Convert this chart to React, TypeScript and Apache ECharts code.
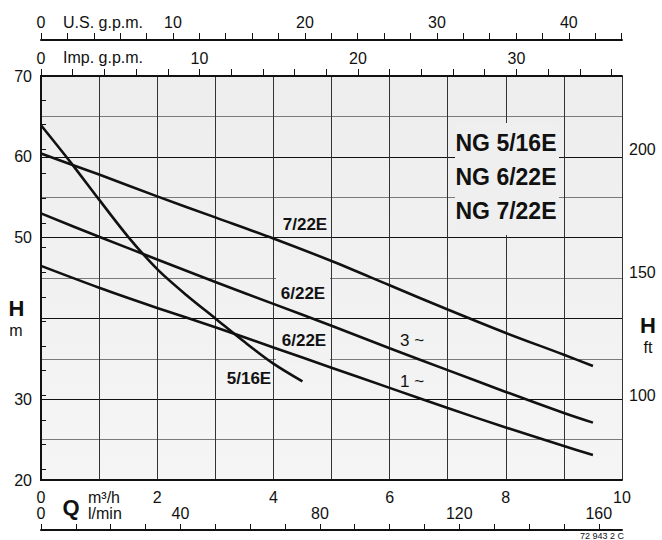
import React, { useEffect, useRef } from "react";
import * as echarts from "echarts";

// ---- data ----
const flowLong = [0, 1, 2, 3, 4, 5, 6, 7, 8, 9, 9.5];
const head722 = [60.4, 57.8, 55.1, 52.5, 49.9, 47.1, 44.1, 41.1, 38.2, 35.5, 34.1];
const head622Three = [53.0, 50.1, 47.3, 44.5, 41.8, 39.1, 36.3, 33.6, 30.9, 28.3, 27.1];
const head622One = [46.5, 43.8, 41.3, 38.9, 36.4, 33.9, 31.4, 28.9, 26.5, 24.2, 23.1];
const flowShort = [0, 0.5, 1, 1.5, 2, 2.5, 3, 3.5, 4, 4.5];
const head516 = [63.9, 59.4, 54.7, 50.1, 46.1, 42.9, 40.0, 37.1, 34.4, 32.2];

const mLabels = [20, 30, 50, 60, 70];
const lminTicks = [0, 10, 20, 30, 40, 50, 60, 70, 80, 90, 100, 110, 120, 130, 140, 150, 160];
const lminLabels = [0, 40, 80, 120, 160];
const usTicks = [0, 2, 4, 6, 8, 10, 12, 14, 16, 18, 20, 22, 24, 26, 28, 30, 32, 34, 36, 38, 40, 42, 44];
const usLabels = [0, 10, 20, 30, 40];
const impTicks = [0, 2, 4, 6, 8, 10, 12, 14, 16, 18, 20, 22, 24, 26, 28, 30, 32, 34, 36];
const impLabels = [0, 10, 20, 30];
const ftTicks = [70, 80, 90, 100, 110, 120, 130, 140, 150, 160, 170, 180, 190, 200, 210, 220];
const ftLabels = [100, 150, 200];

const models = ["NG 5/16E", "NG 6/22E", "NG 7/22E"];

// unit conversions
const Q_MAX = 10; // m3/h
const H_MIN = 20;
const H_MAX = 70;
const US_PER_M3H = 1000 / 3.785411784 / 60;
const IMP_PER_M3H = 1000 / 4.54609 / 60;
const LMIN_PER_M3H = 1000 / 60;
const FT_PER_M = 3.28084;

const FONT = "Liberation Sans, Arial, Helvetica, sans-serif";
const INK = "#111";

const zip = (xs: number[], ys: number[]) => xs.map((x, i) => [x, ys[i]]);

export default function App() {
  const ref = useRef<HTMLDivElement>(null);

  useEffect(() => {
    if (!ref.current) return;
    const chart = echarts.init(ref.current, undefined, { renderer: "svg" });

    const labelStyle = { color: INK, fontSize: 16, fontFamily: FONT };
    const lineSeries = (name: string, xs: number[], ys: number[]) => ({
      type: "line",
      name,
      xAxisIndex: 0,
      yAxisIndex: 1,
      data: zip(xs, ys),
      smooth: 0.3,
      symbol: "none",
      z: 10,
      lineStyle: { color: INK, width: 2.6 },
      silent: true,
    });

    const txt = (
      text: string,
      x: number,
      y: number,
      size: number,
      bold = false,
      align = "center"
    ) => ({
      type: "text",
      x,
      y,
      z: 20,
      silent: true,
      style: {
        text,
        fill: INK,
        font: `${bold ? "bold " : ""}${size}px ${FONT}`,
        textAlign: align,
        textVerticalAlign: "middle",
      },
    });

    const cover = (x: number, y: number, w: number, h: number, fill: string) => ({
      type: "rect",
      z: 1,
      silent: true,
      shape: { x, y, width: w, height: h },
      style: { fill },
    });

    chart.setOption({
      animation: false,
      grid: {
        left: 41,
        right: 40,
        top: 76,
        bottom: 60,
        show: true,
        borderWidth: 0,
        backgroundColor: new echarts.graphic.LinearGradient(0, 0, 0, 1, [
          { offset: 0, color: "#ededed" },
          { offset: 1, color: "#f5f5f5" },
        ]),
      },
      xAxis: [
        {
          type: "value",
          position: "bottom",
          min: 0,
          max: Q_MAX,
          interval: 1,
          axisLine: { show: true, lineStyle: { color: INK, width: 2 } },
          axisTick: { show: false },
          axisLabel: {
            ...labelStyle,
            margin: 9,
            formatter: (v: number) => (v % 2 === 0 ? String(v) : ""),
          },
          splitLine: { show: true, lineStyle: { color: "#333", width: 1 } },
        },
        {
          type: "value",
          position: "bottom",
          offset: 50,
          min: 0,
          max: Q_MAX * LMIN_PER_M3H,
          axisLine: { show: true, lineStyle: { color: INK, width: 2 } },
          axisTick: {
            show: true,
            inside: true,
            length: 6,
            customValues: lminTicks,
            lineStyle: { color: INK, width: 1 },
          },
          axisLabel: { ...labelStyle, inside: true, margin: 9, customValues: lminLabels },
          splitLine: { show: false },
        },
        {
          type: "value",
          position: "top",
          offset: 36,
          min: 0,
          max: Q_MAX * US_PER_M3H,
          axisLine: { show: true, lineStyle: { color: INK, width: 2 } },
          axisTick: {
            show: true,
            length: 7,
            customValues: usTicks,
            lineStyle: { color: INK, width: 1 },
          },
          axisLabel: { ...labelStyle, margin: 10, customValues: usLabels },
          splitLine: { show: false },
        },
        {
          type: "value",
          position: "top",
          offset: 0,
          min: 0,
          max: Q_MAX * IMP_PER_M3H,
          axisLine: { show: true, lineStyle: { color: INK, width: 2 } },
          axisTick: {
            show: true,
            length: 7,
            customValues: impTicks,
            lineStyle: { color: INK, width: 1 },
          },
          axisLabel: { ...labelStyle, margin: 10, customValues: impLabels },
          splitLine: { show: false },
        },
      ],
      yAxis: [
        {
          type: "value",
          position: "left",
          min: H_MIN,
          max: H_MAX,
          interval: 5,
          axisLine: { show: false },
          axisTick: { show: false },
          axisLabel: { show: false },
          splitLine: { show: true, lineStyle: { color: "#7a7a7a", width: 1 } },
        },
        {
          type: "value",
          position: "left",
          min: H_MIN,
          max: H_MAX,
          interval: 10,
          axisLine: { show: true, lineStyle: { color: INK, width: 2 } },
          axisTick: { show: false },
          axisLabel: {
            ...labelStyle,
            margin: 9,
            formatter: (v: number) => (mLabels.includes(v) ? String(v) : ""),
          },
          splitLine: { show: true, lineStyle: { color: "#111", width: 1 } },
        },
        {
          type: "value",
          position: "right",
          min: H_MIN * FT_PER_M,
          max: H_MAX * FT_PER_M,
          axisLine: { show: true, lineStyle: { color: INK, width: 2 } },
          axisTick: {
            show: true,
            length: 5,
            customValues: ftTicks,
            lineStyle: { color: INK, width: 1 },
          },
          axisLabel: { ...labelStyle, margin: 7, customValues: ftLabels },
          splitLine: { show: false },
        },
      ],
      series: [
        lineSeries("7/22E", flowLong, head722),
        lineSeries("6/22E 3~", flowLong, head622Three),
        lineSeries("6/22E 1~", flowLong, head622One),
        lineSeries("5/16E", flowShort, head516),
      ],
      graphic: [
        cover(455, 123, 104, 112, "#efefef"),
        cover(276, 273, 54, 10, "#f1f1f1"),
        cover(276, 354, 54, 10, "#f2f2f2"),
        txt(models[0], 506, 143, 23, true),
        txt(models[1], 506, 177, 23, true),
        txt(models[2], 506, 211, 23, true),
        txt("7/22E", 305, 224, 17, true),
        txt("6/22E", 303, 293, 17, true),
        txt("6/22E", 304, 340, 17, true),
        txt("5/16E", 249, 378, 17, true),
        txt("3 ~", 412, 340, 17),
        txt("1 ~", 412, 381, 17),
        txt("U.S. g.p.m.", 63, 22, 16, false, "left"),
        txt("Imp. g.p.m.", 63, 57, 16, false, "left"),
        txt("Q", 71, 507, 22, true),
        txt("m³/h", 88, 497, 16, false, "left"),
        txt("l/min", 88, 513, 16, false, "left"),
        txt("H", 16.5, 308, 22, true),
        txt("m", 16, 330, 16),
        txt("H", 648, 325, 22, true),
        txt("ft", 648, 347, 16),
        {
          type: "text",
          x: 624,
          y: 531,
          z: 20,
          silent: true,
          style: {
            text: "72 943 2 C",
            fill: INK,
            font: `9px ${FONT}`,
            textAlign: "right",
            textVerticalAlign: "top",
          },
        },
      ],
    });

    return () => chart.dispose();
  }, []);

  return (
    <div
      ref={ref}
      style={{ position: "absolute", left: 0, top: 0, width: 662, height: 540, background: "#fff" }}
    />
  );
}
